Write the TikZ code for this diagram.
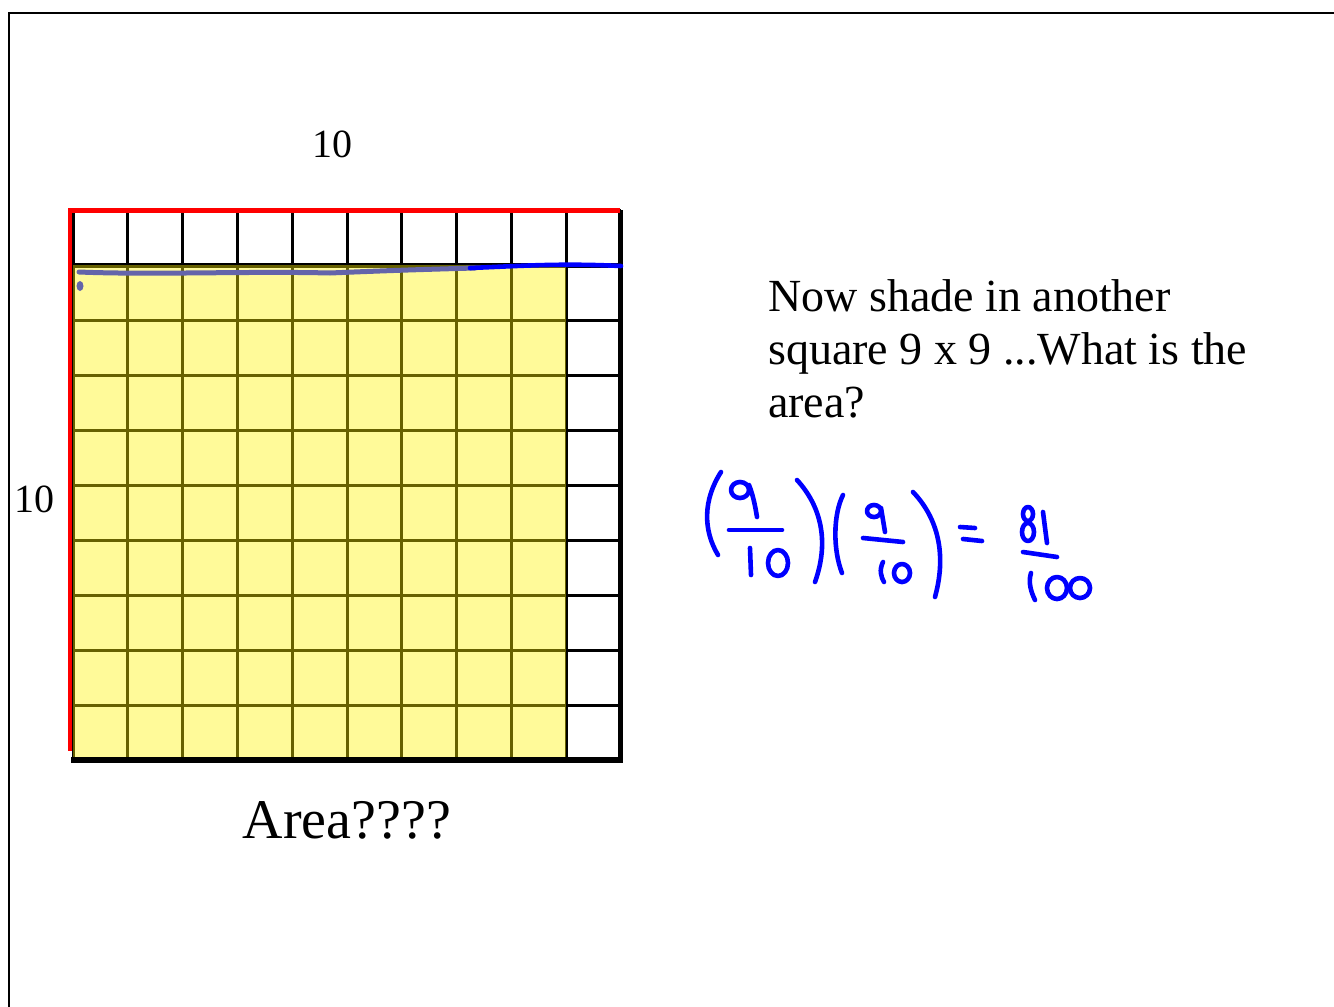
\documentclass[tikz,border=0pt]{standalone}
\usepackage{fontspec}
\setmainfont{Liberation Serif}
\begin{document}
\begin{tikzpicture}[x=1pt,y=-1pt,
  gridline/.style={line width=3pt,black},
  pen/.style={line width=4.6pt,blue,line cap=round,line join=round},
  lbl/.style={inner sep=0pt,anchor=base}]
\useasboundingbox (0,0) rectangle (1334,1007);
% frame
\draw[line width=2.5pt] (9,1007) -- (9,13) -- (1334,13);
% grid
\foreach \i in {0,...,10} {
  \pgfmathsetmacro\xx{73+54.8*\i}
  \draw[gridline] (\xx,210) -- (\xx,760);
  \pgfmathsetmacro\yy{210+55*\i}
  \draw[gridline] (73,\yy) -- (621,\yy);
}
\draw[line width=5pt] (71,265) -- (621,265);
% yellow overlay
\fill[yellow,opacity=0.4] (73,265) rectangle (566.2,760);
% thick edges
\draw[line width=6pt] (71,760) -- (623,760);
\draw[line width=4pt] (620,210) -- (620,760);
% red lines
\draw[red,line width=5pt] (70,210) -- (620,210);
\draw[red,line width=4pt] (70,208) -- (70,751);
% pen lines over grid
\draw[line width=5pt,color={rgb,255:red,100;green,100;blue,170},line cap=round]
  (79,272) .. controls (150,275) and (250,271) .. (330,273) .. controls (400,270) and (440,269) .. (475,268);
\fill[color={rgb,255:red,100;green,100;blue,170}] (80,286) ellipse[x radius=3.5,y radius=5];
\draw[pen,line width=4.6pt] (470,268) .. controls (520,266) and (560,263) .. (621,266);
% texts
\node[lbl,font=\fontsize{40}{40}\selectfont] (top) at (332,157) {10};
\node[lbl,font=\fontsize{40}{40}\selectfont] (left) at (35,512) {10};
\node[lbl,font=\fontsize{56}{56}\selectfont] (area) at (347,838) {Area????};
\node[lbl,anchor=base west,font=\fontsize{46}{46}\selectfont] (t1) at (768,311) {Now shade in another};
\node[lbl,anchor=base west,font=\fontsize{46}{46}\selectfont] (t2) at (768,364) {square 9 x 9 ...What is the};
\node[lbl,anchor=base west,font=\fontsize{46}{46}\selectfont] (t3) at (768,417) {area?};
% handwriting
\draw[pen] (721,472) .. controls (703,500) and (703,530) .. (718,555);
\draw[pen] (740,490) circle[x radius=9,y radius=8];
\draw[pen] (749,485) .. controls (753,495) and (755,505) .. (757,517);
\draw[pen] (729,530) -- (782,530);
\draw[pen] (750,548) -- (751,575);
\draw[pen] (778,563) ellipse[x radius=10,y radius=13];
\draw[pen] (797,480) .. controls (820,505) and (830,540) .. (815,582);
\draw[pen] (843,495) .. controls (833,515) and (833,550) .. (842,573);
\draw[pen] (874,511) circle[x radius=7,y radius=6];
\draw[pen] (881,508) -- (885,532);
\draw[pen] (863,538) -- (903,542);
\draw[pen] (883,562) .. controls (879,570) and (881,577) .. (884,582);
\draw[pen] (902,573) ellipse[x radius=8,y radius=9];
\draw[pen] (913,492) .. controls (935,515) and (948,550) .. (935,597);
\draw[pen] (960,527) -- (975,528);
\draw[pen] (963,539) -- (982,541);
\draw[pen] (1028,514) ellipse[x radius=5,y radius=7];
\draw[pen] (1028,532) ellipse[x radius=6,y radius=9];
\draw[pen] (1043,512) -- (1047,543);
\draw[pen] (1023,552) -- (1057,557);
\draw[pen] (1031,573) .. controls (1028,582) and (1031,592) .. (1035,600);
\draw[pen] (1057,588) ellipse[x radius=10,y radius=11];
\draw[pen] (1080,588) ellipse[x radius=10,y radius=10];
\end{tikzpicture}
\end{document}
